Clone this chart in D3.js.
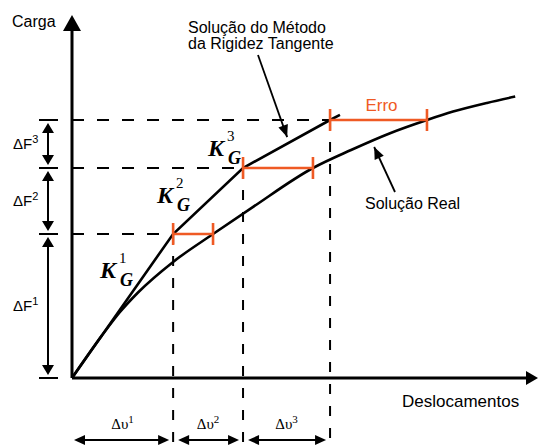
<!DOCTYPE html>
<html>
  <head>
    <script src="https://d3js.org/d3.v7.min.js" charset="utf-8"></script>
    <style>body { margin: 0; }</style>
  </head>
  <body>
    <svg id="chart" width="538" height="448" style="background-color: white"></svg>
    <script>
      // niveis de carga e deslocamentos (unidades arbitrarias)
      var loadLevels = [0, 4.8, 7.0, 8.6];
      var tangentDisp = [0, 3.37, 5.7, 8.6, 8.93];
      var tangentLoad = [0, 4.8, 7.0, 8.6, 8.77];
      var realDisp = [0, 1.0, 1.6, 2.2, 3.37, 4.7, 6.0, 8.03, 9.3, 10.6, 11.83, 12.7, 13.83, 14.77];
      var realLoad = [0, 1.42, 2.2, 2.85, 3.87, 4.8, 5.68, 7.0, 7.6, 8.16, 8.6, 8.88, 9.17, 9.38];
      var realDispAtLevel = [4.7, 8.03, 11.83];
      var stepLabels = ["1", "2", "3"];

      var orange = "#ef5a24";
      var sans = "Arial, 'Liberation Sans', sans-serif";
      var serif = "'Times New Roman', 'Liberation Serif', serif";

      var x = d3.scaleLinear().domain([0, 15.53]).range([72, 538]);
      var y = d3.scaleLinear().domain([0, 12.1]).range([378, 15]);

      var svg = d3.select("#chart");
      var g = svg.append("g");

      function arrowHead(tx, ty, angle, len, half) {
        var c = Math.cos(angle), s = Math.sin(angle);
        var pts = [[tx, ty],
          [tx - len * c - half * s, ty - len * s + half * c],
          [tx - len * c + half * s, ty - len * s - half * c]];
        g.append("polygon").attr("points", pts.map(p => p.join(",")).join(" ")).attr("fill", "black");
      }

      // linhas tracejadas
      var steps = d3.range(1, loadLevels.length);
      g.selectAll("line.hdash").data(steps).enter().append("line")
        .attr("x1", x(0)).attr("x2", i => x(tangentDisp[i]))
        .attr("y1", i => y(loadLevels[i])).attr("y2", i => y(loadLevels[i]))
        .attr("stroke", "black").attr("stroke-width", 2).attr("stroke-dasharray", "12,13");
      g.selectAll("line.vdash").data(steps).enter().append("line")
        .attr("x1", i => x(tangentDisp[i])).attr("x2", i => x(tangentDisp[i]))
        .attr("y1", i => y(loadLevels[i])).attr("y2", 448)
        .attr("stroke", "black").attr("stroke-width", 2).attr("stroke-dasharray", "10,12");

      // curvas
      var line = d3.line().x(d => x(d[0])).y(d => y(d[1]));
      g.append("path")
        .attr("d", line.curve(d3.curveMonotoneX)(d3.zip(realDisp, realLoad)))
        .attr("fill", "none").attr("stroke", "black").attr("stroke-width", 2.6);
      g.append("path")
        .attr("d", line.curve(d3.curveLinear)(d3.zip(tangentDisp, tangentLoad)))
        .attr("fill", "none").attr("stroke", "black").attr("stroke-width", 2.6);

      // eixos
      g.append("line").attr("x1", x(0)).attr("x2", x(0)).attr("y1", y(0)).attr("y2", y(12.1) + 10)
        .attr("stroke", "black").attr("stroke-width", 3);
      arrowHead(x(0), y(12.1), -Math.PI / 2, 16, 9);
      g.append("line").attr("x1", x(0)).attr("x2", x(15.53) - 8).attr("y1", y(0)).attr("y2", y(0))
        .attr("stroke", "black").attr("stroke-width", 3);
      arrowHead(x(15.53), y(0), 0, 12, 7);

      // erro (laranja)
      steps.forEach(function(i) {
        var x1 = x(tangentDisp[i]), x2 = x(realDispAtLevel[i - 1]), yy = y(loadLevels[i]);
        g.append("line").attr("x1", x1).attr("x2", x2).attr("y1", yy).attr("y2", yy)
          .attr("stroke", orange).attr("stroke-width", 2.6);
        [x1, x2].forEach(function(xx) {
          g.append("line").attr("x1", xx).attr("x2", xx).attr("y1", yy - 11).attr("y2", yy + 11)
            .attr("stroke", orange).attr("stroke-width", 2.6);
        });
      });
      g.append("text").text("Erro")
        .attr("x", (x(tangentDisp[3]) + x(realDispAtLevel[2])) / 2 + 3).attr("y", y(loadLevels[3]) - 9)
        .attr("text-anchor", "middle").attr("font-family", sans).attr("font-size", 17).attr("fill", orange);

      // Delta F
      steps.forEach(function(i) {
        var y0 = y(loadLevels[i - 1]), y1 = y(loadLevels[i]);
        g.append("line").attr("x1", 48).attr("x2", 48).attr("y1", y0 - 10).attr("y2", y1 + 10)
          .attr("stroke", "black").attr("stroke-width", 2);
        arrowHead(48, y0 - 3, Math.PI / 2, 10, 6);
        arrowHead(48, y1 + 3, -Math.PI / 2, 10, 6);
        var t = g.append("text").attr("x", 13).attr("y", (y0 + y1) / 2 + 5)
          .attr("font-family", sans).attr("font-size", 15);
        t.append("tspan").text("ΔF");
        t.append("tspan").text(stepLabels[i - 1]).attr("font-size", 11).attr("dy", -6);
      });
      g.selectAll("line.ftick").data(loadLevels).enter().append("line")
        .attr("x1", 39).attr("x2", 58).attr("y1", d => y(d)).attr("y2", d => y(d))
        .attr("stroke", "black").attr("stroke-width", 2);

      // Delta u
      steps.forEach(function(i) {
        var xa = x(tangentDisp[i - 1]) + 2, xb = x(tangentDisp[i]) - 4;
        if (i > 1) xa += 3;
        g.append("line").attr("x1", xa + 6).attr("x2", xb - 6).attr("y1", 440).attr("y2", 440)
          .attr("stroke", "black").attr("stroke-width", 2);
        arrowHead(xa, 440, Math.PI, 11, 5);
        arrowHead(xb, 440, 0, 11, 5);
        var t = g.append("text").attr("x", (x(tangentDisp[i - 1]) + x(tangentDisp[i])) / 2).attr("y", 429)
          .attr("text-anchor", "middle").attr("font-family", serif).attr("font-size", 15);
        t.append("tspan").text("Δυ");
        t.append("tspan").text(stepLabels[i - 1]).attr("font-size", 11).attr("dy", -6);
      });

      // K_G
      var kPos = [[100, 278], [157, 203], [208, 156]];
      kPos.forEach(function(p, i) {
        g.append("text").text("K").attr("x", p[0]).attr("y", p[1])
          .attr("font-family", serif).attr("font-size", 24).attr("font-weight", "bold").attr("font-style", "italic");
        g.append("text").text(stepLabels[i]).attr("x", p[0] + 19).attr("y", p[1] - 15)
          .attr("font-family", serif).attr("font-size", 15);
        g.append("text").text("G").attr("x", p[0] + 20).attr("y", p[1] + 8)
          .attr("font-family", serif).attr("font-size", 18).attr("font-weight", "bold").attr("font-style", "italic");
      });

      // textos
      g.append("text").text("Carga").attr("x", 12).attr("y", 27)
        .attr("font-family", sans).attr("font-size", 16);
      g.append("text").text("Deslocamentos").attr("x", 402).attr("y", 407)
        .attr("font-family", sans).attr("font-size", 17);
      g.append("text").text("Solução do Método").attr("x", 188).attr("y", 33)
        .attr("font-family", sans).attr("font-size", 16);
      g.append("text").text("da Rigidez Tangente").attr("x", 188).attr("y", 49)
        .attr("font-family", sans).attr("font-size", 16);
      g.append("text").text("Solução Real").attr("x", 365).attr("y", 209)
        .attr("font-family", sans).attr("font-size", 16);

      // setas de anotacao
      var tip1 = [x(7.17), y(8.03)], from1 = [258, 55];
      g.append("line").attr("x1", from1[0]).attr("y1", from1[1]).attr("x2", tip1[0]).attr("y2", tip1[1])
        .attr("stroke", "black").attr("stroke-width", 1.8);
      arrowHead(tip1[0], tip1[1], Math.atan2(tip1[1] - from1[1], tip1[0] - from1[0]), 12, 5);
      var tip2 = [x(10.07), y(7.7)], from2 = [395, 192];
      g.append("line").attr("x1", from2[0]).attr("y1", from2[1]).attr("x2", tip2[0]).attr("y2", tip2[1])
        .attr("stroke", "black").attr("stroke-width", 1.8);
      arrowHead(tip2[0], tip2[1], Math.atan2(tip2[1] - from2[1], tip2[0] - from2[0]), 12, 5);
    </script>
  </body>
</html>
